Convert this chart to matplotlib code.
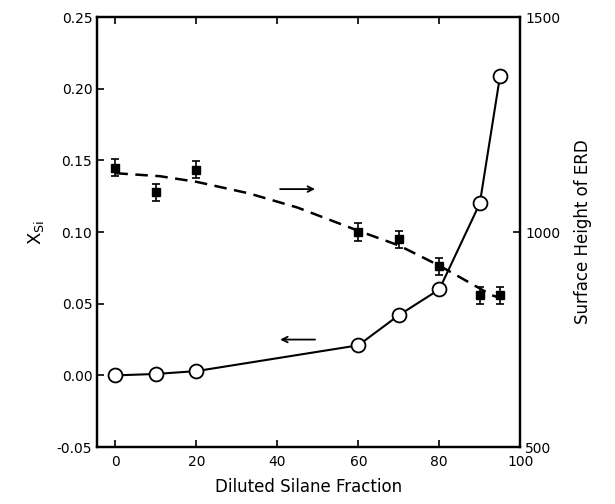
import numpy as np
import matplotlib.pyplot as plt

# X_Si (left axis, open circles)
frac_xsi = [0, 10, 20, 60, 70, 80, 90, 95]
xsi = [0.000, 0.001, 0.003, 0.021, 0.042, 0.060, 0.120, 0.209]

# surface height of ERD (right axis, filled squares with error bars)
frac_erd = [0, 10, 20, 60, 70, 80, 90, 95]
erd = [1150, 1093, 1145, 1000, 983, 920, 853, 853]
erd_err = [20, 20, 20, 20, 20, 20, 20, 20]

# dashed guide line through the ERD points
frac_fit = [0, 11, 20, 33, 45, 60, 70, 80, 93, 95]
erd_fit = [1137, 1130, 1117, 1090, 1057, 1003, 969, 922, 853, 847]

plt.rcParams['font.family'] = 'DejaVu Sans'
fig = plt.figure(figsize=(6.15, 5.04), dpi=100)
ax = fig.add_axes([0.158, 0.113, 0.688, 0.853])
ax2 = ax.twinx()

ax.plot(frac_xsi, xsi, color='black', lw=1.5, marker='o', ms=10,
        mfc='white', mec='black', mew=1.3, zorder=3)

ax2.plot(frac_fit, erd_fit, color='black', lw=1.8, linestyle=(0, (5, 3)))
ax2.errorbar(frac_erd, erd, yerr=erd_err, fmt='s', color='black', ms=6,
             elinewidth=1.2, capsize=3, capthick=1.2)

# direction arrows
ax.annotate('', xy=(50, 0.130), xytext=(40, 0.130),
            arrowprops=dict(arrowstyle='->', color='black', lw=1.3))
ax.annotate('', xy=(40, 0.025), xytext=(50, 0.025),
            arrowprops=dict(arrowstyle='->', color='black', lw=1.3))

ax.set_xlim(-4.5, 99.5)
ax.set_ylim(-0.05, 0.25)
ax2.set_ylim(500, 1500)
ax.set_xticks([0, 20, 40, 60, 80, 100])
ax.set_xticklabels(['0', '20', '40', '60', '80', '100'])
ax.set_yticks([-0.05, 0.00, 0.05, 0.10, 0.15, 0.20, 0.25])
ax.set_yticklabels(['-0.05', '0.00', '0.05', '0.10', '0.15', '0.20', '0.25'])
ax2.set_yticks([500, 1000, 1500])

ax.tick_params(axis='x', direction='in', top=True, length=5, width=1.2,
               labelsize=10, pad=6)
ax.tick_params(axis='y', direction='in', length=5, width=1.2, labelsize=10)
ax2.tick_params(axis='y', direction='in', length=5, width=1.2, labelsize=10)

for a in (ax, ax2):
    for s in a.spines.values():
        s.set_linewidth(1.6)

ax.set_xlabel('Diluted Silane Fraction', fontsize=12, labelpad=6)
ax.set_ylabel(r'X$_{\mathrm{Si}}$', fontsize=13, labelpad=8)
ax2.set_ylabel('Surface Height of ERD', fontsize=12, labelpad=10)

plt.savefig('out.png', dpi=100)
